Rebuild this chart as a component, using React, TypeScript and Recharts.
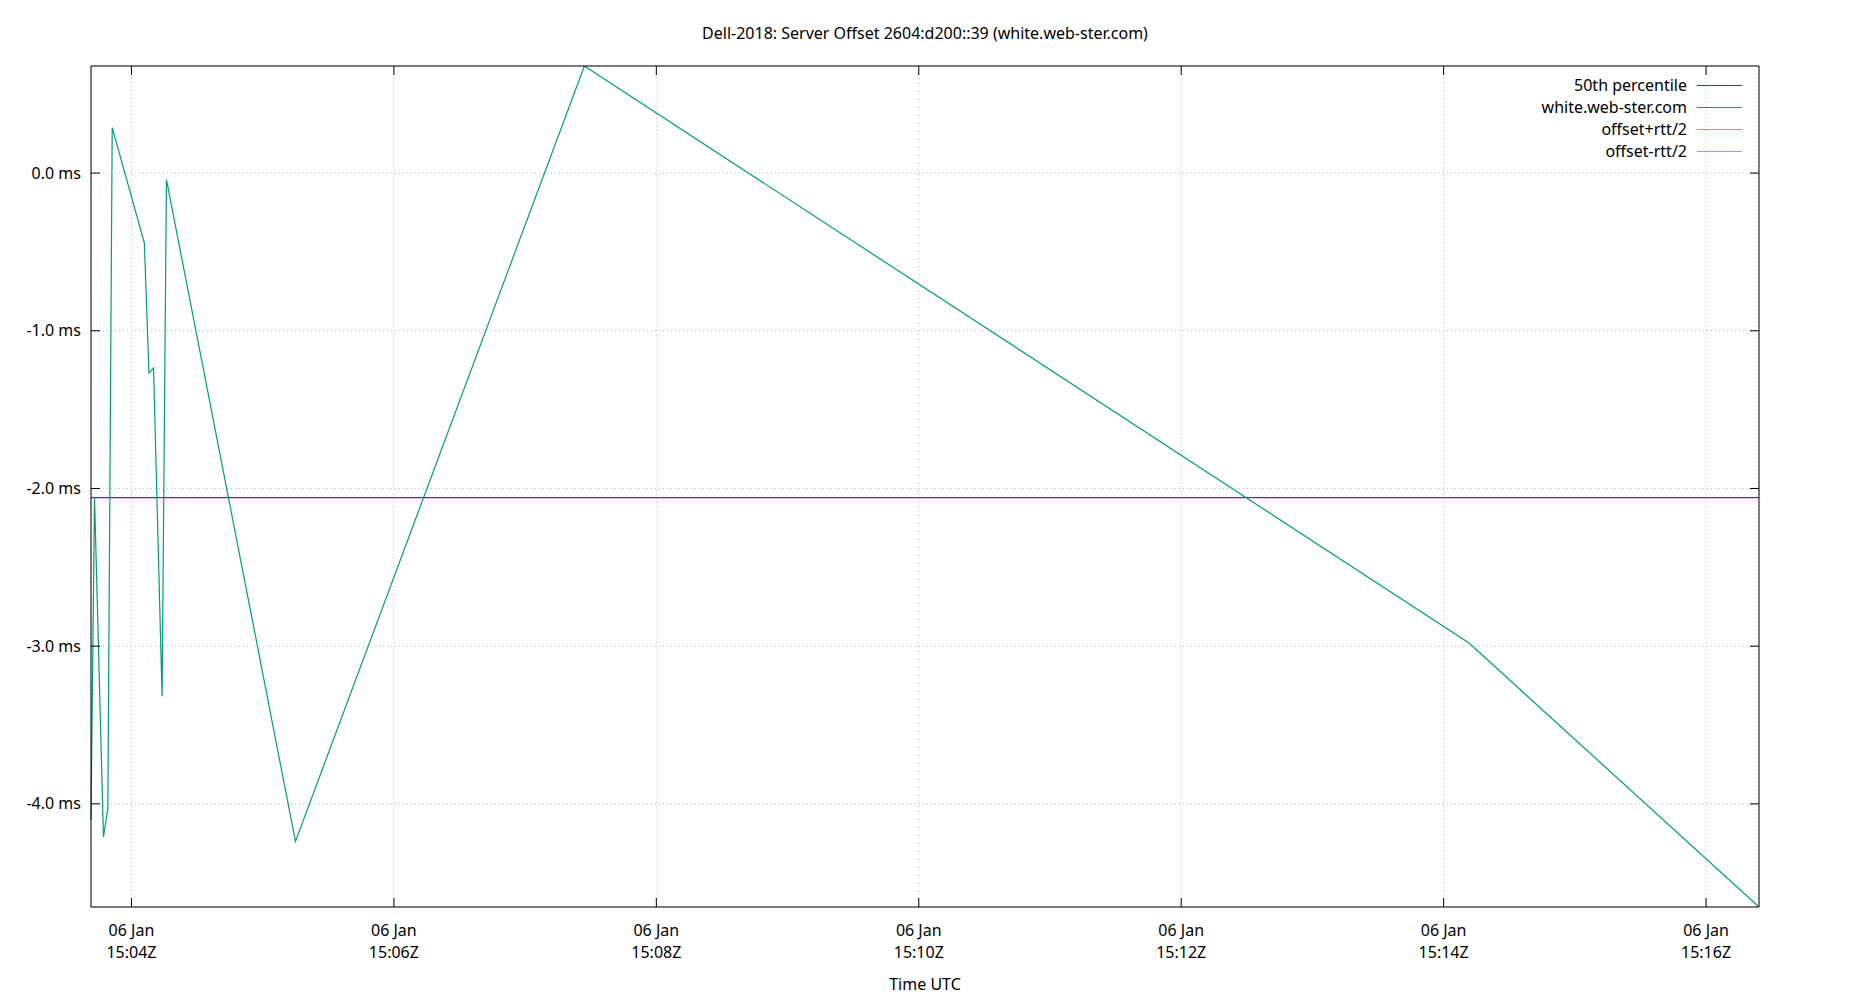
import React from 'react';
import { LineChart, Line, XAxis, YAxis, CartesianGrid } from 'recharts';

// seconds after 15:00Z on 06 Jan
const timeSec = [221.5, 223.1, 227.2, 229.2, 231.2, 245.9, 248.0, 250.1, 254.0, 256.0, 315.0, 447.1, 851.6, 984.2];
const offsetMs = [-4.1, -2.055, -4.21, -4.03, 0.288, -0.444, -1.268, -1.236, -3.318, -0.042, -4.238, 0.679, -2.98, -4.654];
const medianMs = -2.058;

const xTickSec = [240, 360, 480, 600, 720, 840, 960];
const xTickDay = '06 Jan';
const yTickMs = [0, -1, -2, -3, -4];

const legendNames = ['50th percentile', 'white.web-ster.com', 'offset+rtt/2', 'offset-rtt/2'];
const legendColors = ['#9400d3', '#009e73', '#56b4e9', '#e69f00'];

const TITLE = 'Dell-2018: Server Offset 2604:d200::39 (white.web-ster.com)';
const FONT = '"Noto Sans", "Open Sans", sans-serif';

const data = timeSec.map((t, i) => ({ t, offset: offsetMs[i], p50: medianMs }));
const tMin = Math.min(...timeSec);
const tMax = Math.max(...timeSec);
const yMin = Math.min(...offsetMs);
const yMax = Math.max(...offsetMs);

const TICK = 9;

const fmtTime = (s: number) => `15:${String(Math.round(s / 60)).padStart(2, '0')}Z`;
const fmtMs = (v: number) => `${v.toFixed(1)} ms`;

const BottomTick = (props: any) => {
  const { x, y, payload } = props;
  return (
    <g>
      <line x1={x} y1={y} x2={x} y2={y - TICK} stroke="#000" strokeWidth={1} />
      <text x={x} y={y + 29} textAnchor="middle" fontSize={16} fontFamily={FONT} fill="#000">{xTickDay}</text>
      <text x={x} y={y + 51} textAnchor="middle" fontSize={16} fontFamily={FONT} fill="#000">{fmtTime(payload.value)}</text>
    </g>
  );
};

const TopTick = (props: any) => {
  const { x, y } = props;
  return <line x1={x} y1={y} x2={x} y2={y + TICK} stroke="#000" strokeWidth={1} />;
};

const LeftTick = (props: any) => {
  const { x, y, payload } = props;
  return (
    <g>
      <line x1={x + 10} y1={y} x2={x + 10 + TICK} y2={y} stroke="#000" strokeWidth={1} />
      <text x={x} y={y + 5.5} textAnchor="end" fontSize={16} fontFamily={FONT} fill="#000">{fmtMs(payload.value)}</text>
    </g>
  );
};

const RightTick = (props: any) => {
  const { x, y } = props;
  return <line x1={x} y1={y} x2={x - TICK} y2={y} stroke="#000" strokeWidth={1} />;
};

export default function App() {
  return (
    <div style={{ position: 'absolute', left: 0, top: 0, width: 1850, height: 1000, background: '#fff', fontFamily: FONT }}>
      <div style={{ position: 'absolute', left: 0, top: 22, width: 1850, textAlign: 'center', fontSize: 16, lineHeight: '22px', color: '#000' }}>
        {TITLE}
      </div>
      <LineChart width={1850} height={1000} data={data} margin={{ top: 65, right: 90, bottom: 0, left: 0 }}>
        <CartesianGrid stroke="#b8b8b8" strokeDasharray="1 3" />
        <XAxis
          dataKey="t"
          type="number"
          domain={[tMin, tMax]}
          ticks={xTickSec}
          interval={0}
          tickSize={0}
          tickMargin={0}
          tickLine={false}
          axisLine={{ stroke: '#000' }}
          tick={BottomTick}
          height={93}
          label={{ value: 'Time UTC', position: 'insideBottom', offset: 10, fontSize: 16, fontFamily: FONT, fill: '#000' }}
        />
        <XAxis
          xAxisId="top"
          dataKey="t"
          orientation="top"
          type="number"
          domain={[tMin, tMax]}
          ticks={xTickSec}
          interval={0}
          tickSize={0}
          tickMargin={0}
          tickLine={false}
          axisLine={{ stroke: '#000' }}
          tick={TopTick}
          height={1}
          allowDataOverflow
        />
        <YAxis
          type="number"
          domain={[yMin, yMax]}
          ticks={yTickMs}
          interval={0}
          tickSize={0}
          tickMargin={10}
          tickLine={false}
          axisLine={{ stroke: '#000' }}
          tick={LeftTick}
          width={91}
          allowDataOverflow
        />
        <YAxis
          yAxisId="right"
          orientation="right"
          type="number"
          domain={[yMin, yMax]}
          ticks={yTickMs}
          interval={0}
          tickSize={0}
          tickMargin={0}
          tickLine={false}
          axisLine={{ stroke: '#000' }}
          tick={RightTick}
          width={1}
          allowDataOverflow
        />
        <Line type="linear" dataKey="p50" stroke={legendColors[0]} strokeWidth={1.2} dot={false} activeDot={false} isAnimationActive={false} />
        <Line type="linear" dataKey="offset" stroke={legendColors[1]} strokeWidth={1.2} dot={false} activeDot={false} isAnimationActive={false} />
        <Line xAxisId="top" yAxisId="right" type="linear" dataKey="offset" stroke="none" strokeWidth={0} dot={false} activeDot={false} isAnimationActive={false} legendType="none" />
      </LineChart>
      <div style={{ position: 'absolute', left: 1397, top: 74, width: 345 }}>
        {legendNames.map((name, i) => (
          <div key={name} style={{ display: 'flex', alignItems: 'center', justifyContent: 'flex-end', height: 22, fontSize: 16, color: '#000' }}>
            <span style={{ lineHeight: '22px' }}>{name}</span>
            <span style={{ display: 'inline-block', width: 45, height: 0, borderTop: `1.2px solid ${legendColors[i]}`, marginLeft: 10 }} />
          </div>
        ))}
      </div>
    </div>
  );
}
